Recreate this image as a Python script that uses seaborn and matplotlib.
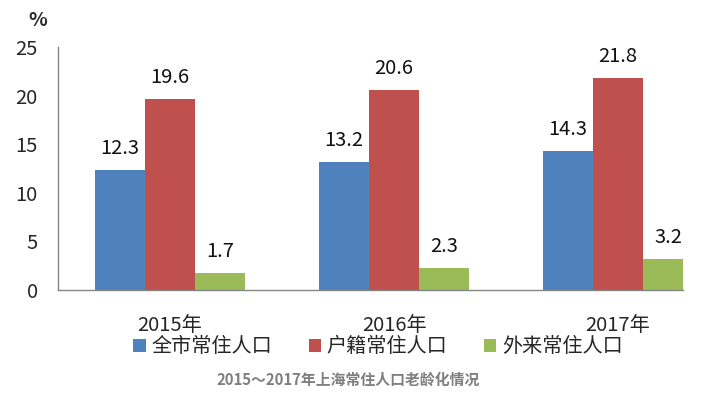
import pandas as pd
import numpy as np
import matplotlib.pyplot as plt
import seaborn as sns

# data
years = ["2015年", "2016年", "2017年"]
series = ["全市常住人口", "户籍常住人口", "外来常住人口"]
city = [12.3, 13.2, 14.3]
huji = [19.6, 20.6, 21.8]
waila = [1.7, 2.3, 3.2]
colors = ["#4F81BD", "#C0504D", "#9BBB59"]

df = pd.DataFrame({
    "year": years * 3,
    "group": [s for s in series for _ in years],
    "value": city + huji + waila,
})

sns.set_style("white")
plt.rcParams["font.family"] = ["Noto Sans CJK SC", "DejaVu Sans"]

fig = plt.figure(figsize=(7.01, 3.94), dpi=100)
ax = fig.add_axes([58 / 701, 1 - 290 / 394, (683 - 58) / 701, (290 - 47) / 394])

sns.barplot(data=df, x="year", y="value", hue="group", hue_order=series,
            palette=colors, width=0.67, saturation=1, linewidth=0, ax=ax, legend=True)

for c in ax.containers:
    ax.bar_label(c, fmt="%.1f", padding=8, fontsize=14.5, color="#111111")

ax.set_ylim(0, 25)
ax.set_yticks([0, 5, 10, 15, 20, 25])
ax.set_xlim(-0.5, 2.29)
ax.set_xlabel("")
ax.set_ylabel("")

# category ticks sit at the boundaries
ax.set_xticks([-0.5, 0.5, 1.5], minor=True)
ax.tick_params(axis="x", which="major", length=0, labelsize=14.5, pad=18)
ax.tick_params(axis="x", which="minor", length=7, color="#868686", width=1, direction="out")
ax.tick_params(axis="y", length=4.5, color="#868686", width=1, labelsize=14.5, pad=10, direction="out")

for s in ["top", "right"]:
    ax.spines[s].set_visible(False)
for s in ["left", "bottom"]:
    ax.spines[s].set_color("#868686")
    ax.spines[s].set_linewidth(1)

fig.text(38 / 701, 1 - 20 / 394, "%", fontsize=14, fontweight="bold", ha="center", va="center")

handles, labels = ax.get_legend_handles_labels()
ax.get_legend().remove()
fig.legend(handles, labels, loc="center", bbox_to_anchor=(378 / 701, 1 - 347 / 394),
           ncol=3, frameon=False, fontsize=14.5, handlelength=0.6, handleheight=0.6,
           handletextpad=0.3, columnspacing=1.8)

fig.text(348 / 701, 1 - 380 / 394, "2015～2017年上海常住人口老龄化情况",
         fontsize=10.7, fontweight="bold", color="#7F7F7F", ha="center", va="center")

fig.savefig("out.png", dpi=100)
